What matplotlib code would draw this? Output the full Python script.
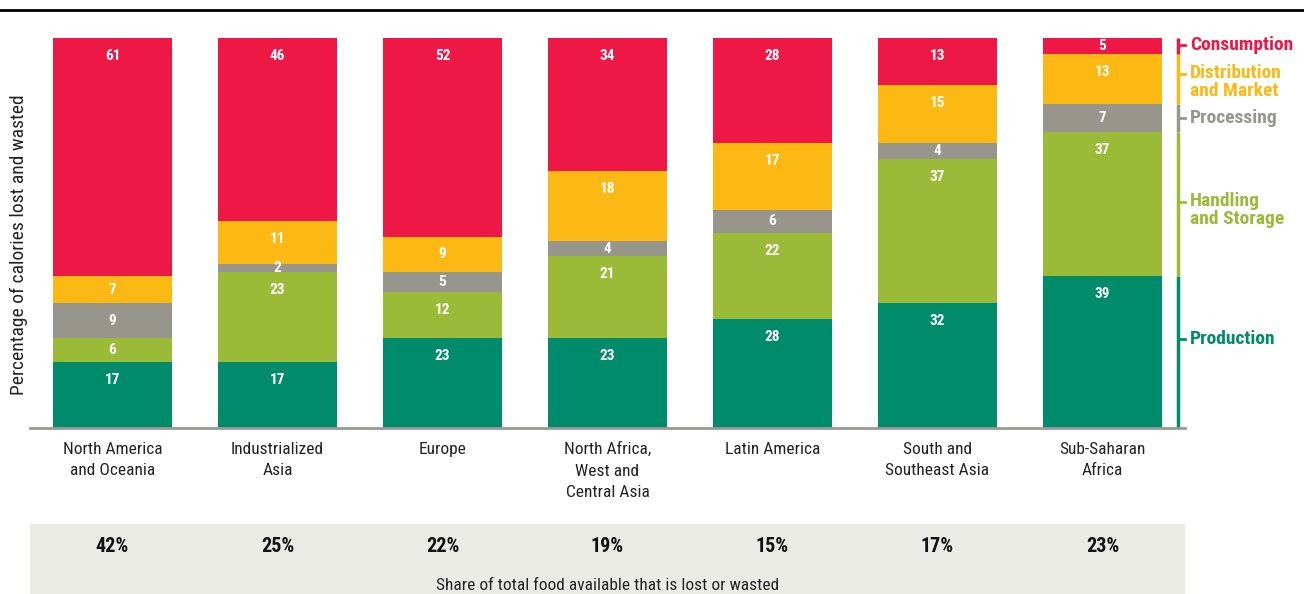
import matplotlib.pyplot as plt
import numpy as np

regions = ['North America\nand Oceania', 'Industrialized\nAsia', 'Europe',
           'North Africa,\nWest and\nCentral Asia', 'Latin America',
           'South and\nSoutheast Asia', 'Sub-Saharan\nAfrica']
stages = ['Production', 'Handling\nand Storage', 'Processing',
          'Distribution\nand Market', 'Consumption']
production = [17, 17, 23, 23, 28, 32, 39]
handling = [6, 23, 12, 21, 22, 37, 37]
processing = [9, 2, 5, 4, 6, 4, 7]
distribution = [7, 11, 9, 18, 17, 15, 13]
consumption = [61, 46, 52, 34, 28, 13, 5]
share_lost = ['42%', '25%', '22%', '19%', '15%', '17%', '23%']
legend_y = [22.8, 58, 79.5, 90.8, 98.3]

colors = ['#008C6A', '#9BBB38', '#97958C', '#FDB913', '#EE1847']

plt.rcParams['font.family'] = ['Roboto Condensed', 'Liberation Sans Narrow', 'Roboto', 'DejaVu Sans']

W, H = 1304, 594
fig = plt.figure(figsize=(W / 100, H / 100), dpi=100)
ax = fig.add_axes([30 / W, (H - 428) / H, 1155 / W, 390 / H])

x = np.arange(len(regions))
series = np.array([production, handling, processing, distribution, consumption], dtype=float)

bottom = np.zeros(len(regions))
px_per_unit = 390 / 100
off = 18 / px_per_unit
seg_tops = []
for k, (vals, col) in enumerate(zip(series, colors)):
    heights = vals.copy()
    if k == len(series) - 1:
        # rounded shares: let the last segment run to the top of the bar
        heights = np.maximum(heights, 100 - bottom)
    ax.bar(x, heights, bottom=bottom, width=0.72, color=col, linewidth=0)
    for xi, b, h, lab in zip(x, bottom, heights, vals):
        top = min(b + h, 100)
        center = (b + top) / 2
        y = max(center, top - off)
        ax.text(xi, y, f'{int(lab)}', ha='center', va='center', color='white',
                fontsize=11, fontweight='bold')
    bottom += heights
    seg_tops.append(min(bottom[-1], 100))

ax.set_xlim(-0.5, 6.5)
ax.set_ylim(0, 100)
for s in ['top', 'right', 'left']:
    ax.spines[s].set_visible(False)
ax.spines['bottom'].set_color('#9a9a94')
ax.spines['bottom'].set_linewidth(2)
ax.set_yticks([])
ax.set_xticks(x)
ax.set_xticklabels(regions, fontsize=12.5, linespacing=1.55, color='#222222')
ax.tick_params(axis='x', length=0, pad=10)
ax.set_ylabel('Percentage of calories lost and wasted', fontsize=14, color='#222222')
ax.yaxis.set_label_coords(-2 / 1155, (428 - 245) / 390)

# legend along the right edge, following the last bar's stack
lx = 6.5 - 7 / 165
sb = 0.0
for top, col, name, ly in zip(seg_tops, colors, stages, legend_y):
    ax.plot([lx, lx], [sb, top], color=col, lw=2.5, clip_on=False,
            solid_capstyle='butt')
    ax.plot([lx, lx + 7 / 165], [ly, ly], color=col, lw=2, clip_on=False)
    multi = '\n' in name
    ax.text(6.5 + 5 / 165, ly + (10 / px_per_unit if multi else 0), name, ha='left',
            va='top' if multi else 'center', color=col, fontsize=14,
            fontweight='bold', linespacing=1.0)
    sb = top

# top rule
fig.add_artist(plt.Line2D([0, 1], [(H - 10) / H] * 2, color='black', lw=2))

# bottom band
bx = fig.add_axes([30 / W, 0, 1155 / W, 70 / H])
bx.set_facecolor('#EBEBE6')
bx.set_xlim(-0.5, 6.5)
bx.set_ylim(0, 70)
bx.set_xticks([])
bx.set_yticks([])
for s in bx.spines.values():
    s.set_visible(False)
for xi, s in zip(x, share_lost):
    bx.text(xi, 47, s, ha='center', va='center', fontsize=14.5, fontweight='bold', color='#111111')
bx.text(3, 8, 'Share of total food available that is lost or wasted', ha='center', va='center',
        fontsize=12.5, color='#222222')

fig.savefig('out.png', dpi=100)
